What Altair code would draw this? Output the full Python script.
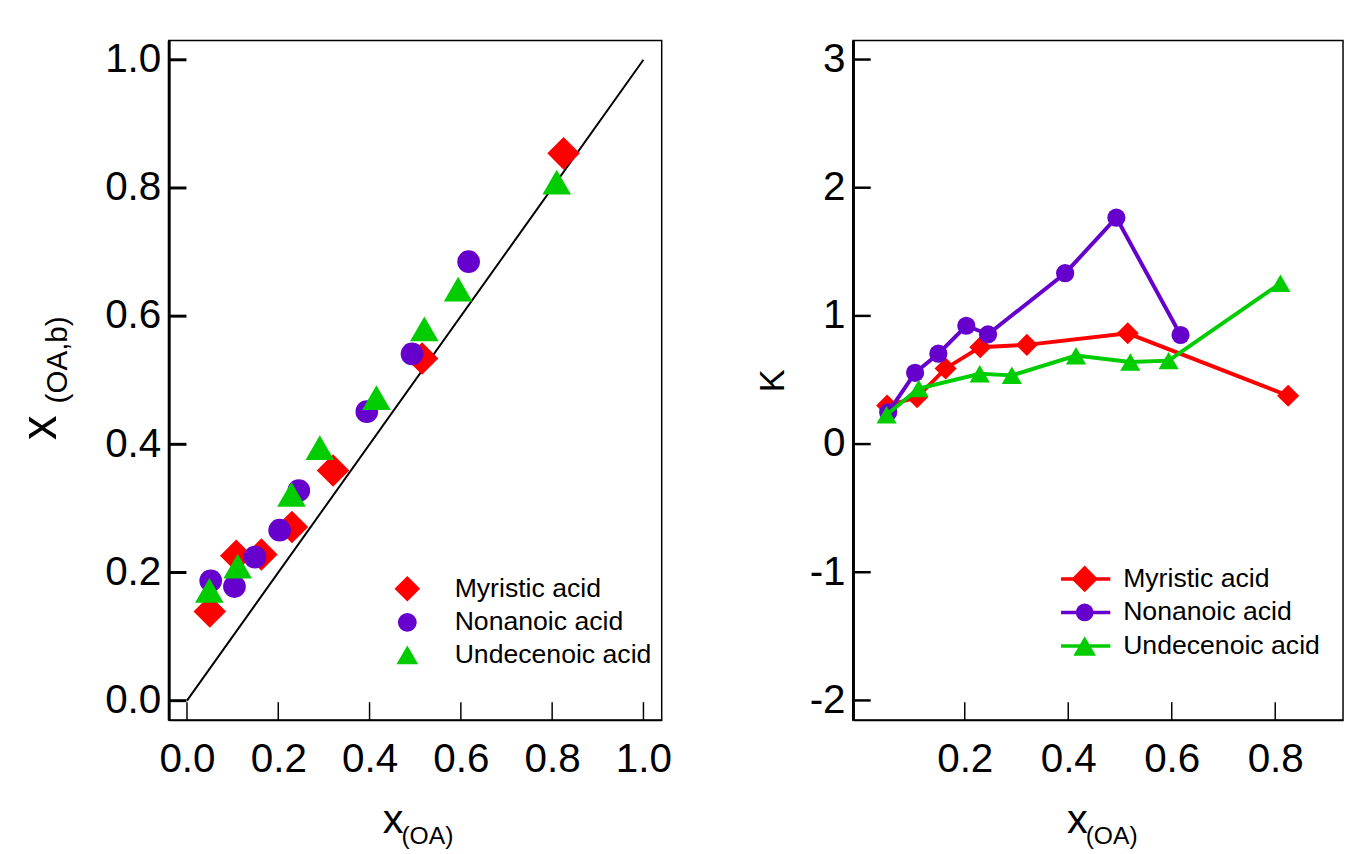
import altair as alt
import pandas as pd

# ---------------- data ----------------
series_names = ["Myristic acid", "Nonanoic acid", "Undecenoic acid"]
series_colors = ["#ff0000", "#6600cc", "#00cc00"]
series_shapes = ["diamond", "circle", "triangle-up"]

myristic_x = [0.050, 0.108, 0.163, 0.230, 0.320, 0.515, 0.825]
myristic_xb = [0.139, 0.226, 0.228, 0.271, 0.359, 0.534, 0.854]
myristic_k = [0.300, 0.365, 0.590, 0.756, 0.774, 0.864, 0.377]

nonanoic_x = [0.052, 0.104, 0.149, 0.203, 0.245, 0.394, 0.493, 0.617]
nonanoic_xb = [0.187, 0.178, 0.224, 0.266, 0.328, 0.451, 0.541, 0.685]
nonanoic_k = [0.248, 0.556, 0.705, 0.923, 0.856, 1.333, 1.766, 0.851]

undecenoic_x = [0.049, 0.111, 0.229, 0.291, 0.415, 0.520, 0.594, 0.810]
undecenoic_xb = [0.172, 0.210, 0.322, 0.395, 0.473, 0.580, 0.642, 0.809]
undecenoic_k = [0.228, 0.433, 0.548, 0.536, 0.690, 0.641, 0.651, 1.254]

ideal_x = [0.0, 1.0]
ideal_y = [0.0, 1.0]

left_ticks = [0.0, 0.2, 0.4, 0.6, 0.8, 1.0]
right_x_ticks = [0.2, 0.4, 0.6, 0.8]
right_y_ticks = [-2, -1, 0, 1, 2, 3]

axis_x_main = "x"
axis_x_sub = "(OA)"
axis_yl_sub = "(OA,b)"
axis_yr_title = "K"

# ---------------- tables ----------------
rows = []
for name, xs, xbs, ks in [
    (series_names[0], myristic_x, myristic_xb, myristic_k),
    (series_names[1], nonanoic_x, nonanoic_xb, nonanoic_k),
    (series_names[2], undecenoic_x, undecenoic_xb, undecenoic_k),
]:
    for i, (a, b, c) in enumerate(zip(xs, xbs, ks)):
        rows.append({"series": name, "x": a, "xb": b, "k": c, "i": i})
df = pd.DataFrame(rows)
ideal_df = pd.DataFrame({"x": ideal_x, "xb": ideal_y})
legend_df = pd.DataFrame({"series": series_names})
one = pd.DataFrame({"dummy": [1]})

FONT = "Liberation Sans"
W1, W2, H = 500, 497, 689
TICK = 18

xl_dom = [-0.04, 1.04]
yl_dom = [-0.03, 1.03]
xr_dom = [-0.016, 0.931]
yr_dom = [-2.152, 3.148]
xl_scale = alt.Scale(domain=xl_dom, nice=False, zero=False)
yl_scale = alt.Scale(domain=yl_dom, nice=False, zero=False)
xr_scale = alt.Scale(domain=xr_dom, nice=False, zero=False)
yr_scale = alt.Scale(domain=yr_dom, nice=False, zero=False)

neg_expr = "datum.value < 0 ? '-' + format(abs(datum.value), 'd') : format(datum.value, 'd')"

UP_TICK = "M0,0L0,-2"      # inward tick from the bottom edge
RIGHT_TICK = "M0,0L2,0"    # inward tick from the left edge


def x_title_layers():
    main = alt.Chart(one).mark_text(
        text=axis_x_main, font=FONT, fontSize=42, align="left", baseline="alphabetic", color="black"
    ).encode(x=alt.value(217), y=alt.value(H + 115))
    sub = alt.Chart(one).mark_text(
        text=axis_x_sub, font=FONT, fontSize=25, align="left", baseline="alphabetic", color="black"
    ).encode(x=alt.value(236), y=alt.value(H + 126))
    return [main, sub]


def tick_layers(xvals, yvals, xdom, ydom, yfield, xscale, yscale, xw, yw):
    xt = pd.DataFrame({"x": xvals, yfield: [ydom[0]] * len(xvals)})
    yt = pd.DataFrame({yfield: yvals, "x": [xdom[0]] * len(yvals)})
    return [
        alt.Chart(xt).mark_point(
            shape=UP_TICK, size=TICK * TICK, filled=False, color="black",
            strokeWidth=xw, opacity=1, strokeCap="butt",
        ).encode(x=alt.X("x:Q", scale=xscale), y=alt.Y(f"{yfield}:Q", scale=yscale)),
        alt.Chart(yt).mark_point(
            shape=RIGHT_TICK, size=TICK * TICK, filled=False, color="black",
            strokeWidth=yw, opacity=1, strokeCap="butt",
        ).encode(x=alt.X("x:Q", scale=xscale), y=alt.Y(f"{yfield}:Q", scale=yscale)),
    ]


# ---------------- left panel ----------------
left_layers = []
left_layers.append(
    alt.Chart(ideal_df).mark_line(color="black", strokeWidth=2).encode(
        x=alt.X("x:Q", scale=xl_scale,
                axis=alt.Axis(values=left_ticks, format=".1f", title=None)),
        y=alt.Y("xb:Q", scale=yl_scale,
                axis=alt.Axis(values=left_ticks, format=".1f", title=None)),
    )
)
left_layers += tick_layers(left_ticks, left_ticks, xl_dom, yl_dom, "xb", xl_scale, yl_scale, 1.5, 3)
left_sizes = [1089, 529, 841]
for name, col, shp, sz in zip(series_names, series_colors, series_shapes, left_sizes):
    left_layers.append(
        alt.Chart(df).transform_filter(alt.datum.series == name)
        .mark_point(filled=True, opacity=1, color=col, shape=shp, size=sz, strokeWidth=0)
        .encode(x=alt.X("x:Q", scale=xl_scale), y=alt.Y("xb:Q", scale=yl_scale))
    )
# legend
l_rows = [556, 590, 623]
legend_sizes_l = [676, 361, 484]
for name, col, shp, sz, ry in zip(series_names, series_colors, series_shapes, legend_sizes_l, l_rows):
    base = alt.Chart(legend_df).transform_filter(alt.datum.series == name)
    left_layers.append(
        base.mark_point(filled=True, opacity=1, color=col, shape=shp, size=sz, strokeWidth=0)
        .encode(x=alt.value(242), y=alt.value(ry))
    )
    left_layers.append(
        base.mark_text(font=FONT, fontSize=27, align="left", baseline="middle", color="black")
        .encode(x=alt.value(290), y=alt.value(ry), text="series:N")
    )
# axis titles
yl_main = alt.Chart(one).mark_text(
    text=axis_x_main, font=FONT, fontSize=50, angle=270, align="left", baseline="alphabetic", color="black"
).encode(x=alt.value(-114), y=alt.value(405))
yl_sub = alt.Chart(one).mark_text(
    text=axis_yl_sub, font=FONT, fontSize=30, angle=270, align="left", baseline="alphabetic", color="black"
).encode(x=alt.value(-103), y=alt.value(368))
left_layers += x_title_layers() + [yl_main, yl_sub]

left = alt.layer(*left_layers).properties(width=W1, height=H)

# ---------------- right panel ----------------
right_layers = []
right_sizes = [500, 340, 420]
first = True
for name, col, shp, sz in zip(series_names, series_colors, series_shapes, right_sizes):
    base = alt.Chart(df).transform_filter(alt.datum.series == name)
    if first:
        xenc = alt.X("x:Q", scale=xr_scale,
                     axis=alt.Axis(values=right_x_ticks, format=".1f", title=None))
        yenc = alt.Y("k:Q", scale=yr_scale,
                     axis=alt.Axis(values=right_y_ticks, labelExpr=neg_expr, title=None))
        first = False
    else:
        xenc = alt.X("x:Q", scale=xr_scale)
        yenc = alt.Y("k:Q", scale=yr_scale)
    right_layers.append(
        base.mark_line(color=col, strokeWidth=4).encode(x=xenc, y=yenc, order="i:Q")
    )
    right_layers.append(
        base.mark_point(filled=True, opacity=1, color=col, shape=shp, size=sz, strokeWidth=0)
        .encode(x=alt.X("x:Q", scale=xr_scale), y=alt.Y("k:Q", scale=yr_scale))
    )
right_layers += tick_layers(right_x_ticks, right_y_ticks, xr_dom, yr_dom, "k", xr_scale, yr_scale, 1.5, 2.5)
r_rows = [546, 580, 614]
legend_sizes_r = [729, 324, 529]
for name, col, shp, sz, ry in zip(series_names, series_colors, series_shapes, legend_sizes_r, r_rows):
    base = alt.Chart(legend_df).transform_filter(alt.datum.series == name)
    right_layers.append(
        base.mark_rule(color=col, strokeWidth=3.5).encode(
            x=alt.value(211), x2=alt.value(261), y=alt.value(ry)
        )
    )
    right_layers.append(
        base.mark_point(filled=True, opacity=1, color=col, shape=shp, size=sz, strokeWidth=0)
        .encode(x=alt.value(235), y=alt.value(ry))
    )
    right_layers.append(
        base.mark_text(font=FONT, fontSize=27, align="left", baseline="middle", color="black")
        .encode(x=alt.value(274), y=alt.value(ry), text="series:N")
    )
yr_title = alt.Chart(one).mark_text(
    text=axis_yr_title, font=FONT, fontSize=35, angle=270, align="center", baseline="alphabetic", color="black"
).encode(x=alt.value(-70), y=alt.value(345))
right_layers += x_title_layers() + [yr_title]

right = alt.layer(*right_layers).properties(width=W2, height=H)

chart = (
    alt.hconcat(left, right, spacing=84)
    .properties(padding={"left": 8, "top": 24, "right": 0, "bottom": 0})
    .configure_view(stroke="black", strokeWidth=1.5)
    .configure_axis(
        labelFont=FONT, labelFontSize=41, labelColor="black", ticks=False, grid=False,
        domainColor="black",
    )
    .configure_axisLeft(domainWidth=3, labelPadding=8)
    .configure_axisBottom(domainWidth=1.5, labelPadding=20)
)

chart.save("out.html", embed_options={"renderer": "svg", "actions": False})
